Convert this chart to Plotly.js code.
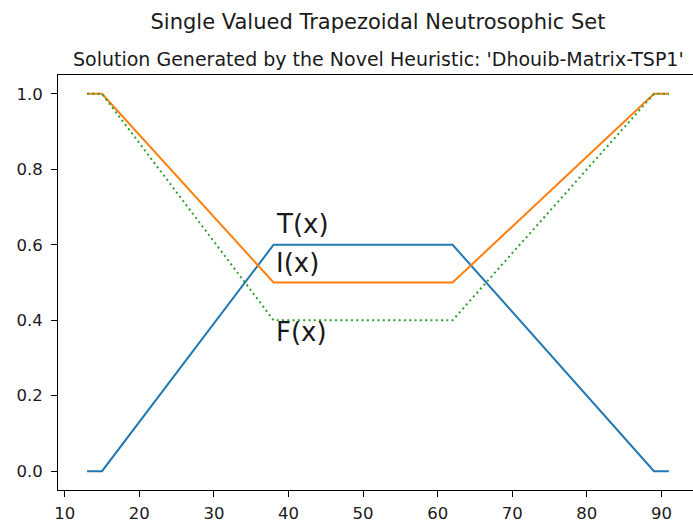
<!DOCTYPE html>
<html>
<head>
<meta charset="utf-8">
<script src="https://cdn.plot.ly/plotly-3.0.1.min.js"></script>
<style>
html,body{margin:0;padding:0;overflow:hidden;background:#fff;}
#chart{width:700px;height:523px;}
</style>
</head>
<body>
<div id="chart"></div>
<script>
// Data
const xValues = [13, 15, 38, 62, 89, 91];
const truthT = [0, 0, 0.6, 0.6, 0, 0];
const indetI = [1, 1, 0.5, 0.5, 1, 1];
const falseF = [1, 1, 0.4, 0.4, 1, 1];
const labelNames = ["T(x)", "I(x)", "F(x)"];
const labelX = [38.1, 38.1, 38.1];
const labelY = [0.655, 0.553, 0.368];
const xTicks = [10, 20, 30, 40, 50, 60, 70, 80, 90];
const yTicks = [0.0, 0.2, 0.4, 0.6, 0.8, 1.0];

const font = "DejaVu Sans, sans-serif";
const txt = "#1a1a1a";

const traces = [
  {x: xValues, y: truthT, mode: "lines", name: "T", line: {color: "#1f77b4", width: 2}},
  {x: xValues, y: indetI, mode: "lines", name: "I", line: {color: "#ff7f0e", width: 2}},
  {x: xValues, y: falseF, mode: "lines", name: "F", line: {color: "#2ca02c", width: 2, dash: "2px,3.3px"}}
];

const annotations = labelNames.map((t, i) => ({
  x: labelX[i], y: labelY[i], xref: "x", yref: "y", text: t, showarrow: false,
  xanchor: "left", yanchor: "middle", font: {family: font, size: 26, color: txt}
}));
annotations.push({
  xref: "paper", yref: "paper", x: 0.5, y: 1, yshift: 16, xanchor: "center", yanchor: "middle",
  text: "Solution Generated by the Novel Heuristic: 'Dhouib-Matrix-TSP1'", showarrow: false,
  font: {family: font, size: 19, color: txt}
});

const layout = {
  width: 700, height: 523,
  margin: {l: 58, r: 2, t: 75, b: 33},
  paper_bgcolor: "#fff", plot_bgcolor: "#fff",
  showlegend: false,
  title: {
    text: "Single Valued Trapezoidal Neutrosophic Set",
    xref: "paper", x: 0.5, xanchor: "center",
    yref: "container", y: 1 - 22/523, yanchor: "middle",
    font: {family: font, size: 21, color: txt}
  },
  xaxis: {
    range: [9.1, 94.9], tickvals: xTicks, ticktext: xTicks.map(String),
    showgrid: false, zeroline: false, showline: true, mirror: true,
    linecolor: "#000", linewidth: 1, ticks: "outside", ticklen: 6, tickcolor: "#000", tickwidth: 1,
    ticklabelstandoff: 2,
    tickfont: {family: font, size: 16.5, color: txt}
  },
  yaxis: {
    range: [-0.05, 1.05], tickvals: yTicks, ticktext: yTicks.map(v => v.toFixed(1)),
    showgrid: false, zeroline: false, showline: true, mirror: true,
    linecolor: "#000", linewidth: 1, ticks: "outside", ticklen: 6, tickcolor: "#000", tickwidth: 1,
    ticklabelstandoff: 5,
    tickfont: {family: font, size: 16.5, color: txt}
  },
  annotations: annotations
};

Plotly.newPlot("chart", traces, layout, {displayModeBar: false, staticPlot: true});
</script>
</body>
</html>
